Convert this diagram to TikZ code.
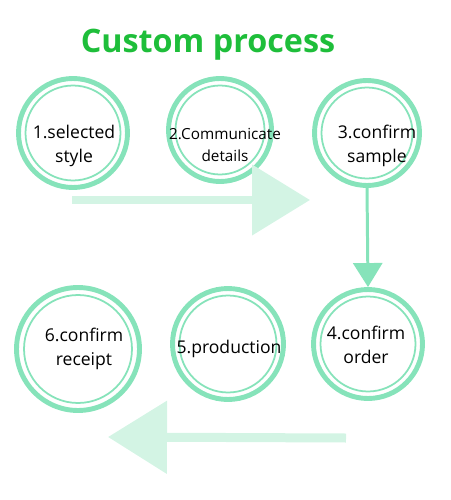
\documentclass[tikz,border=0pt]{standalone}
\usepackage{fontspec}
\setmainfont{Open Sans}
\usepackage{tikz}
\usetikzlibrary{arrows.meta,positioning}
\definecolor{ringgreen}{RGB}{134,227,186}
\definecolor{palegreen}{RGB}{211,244,228}
\definecolor{titlegreen}{RGB}{30,190,58}

\begin{document}
\begin{tikzpicture}[x=0.02cm, y=-0.02cm,
    ring/.style={circle, draw=ringgreen, line width=2.8pt, fill=white,
        inner sep=0pt},
    inring/.style={draw=ringgreen, line width=1pt},
    lbl/.style={align=center, font=\fontsize{10}{14}\selectfont, inner sep=0pt},
    bigarr/.style={palegreen, -{Triangle[length=1.16cm, width=1.38cm]}},
    downarr/.style={ringgreen, line width=1.7pt, -{Triangle[length=0.48cm, width=0.58cm]}}
]
    \useasboundingbox (0,0) rectangle (450,500);
    \node[font=\fontsize{18.4}{22}\selectfont\bfseries, text=titlegreen, anchor=base] (title) at (208,53) {Custom process};
    % upper row
    \node[ring, minimum size=2.18cm] (c1) at (73,133) {};
    \node[ring, minimum size=2.06cm] (c2) at (220,130) {};
    \node[ring, minimum size=2.10cm] (c3) at (367,133) {};
    % lower row
    \node[ring, minimum size=2.18cm] (c4) at (368,344) {};
    \node[ring, minimum size=2.22cm] (c5) at (228,344) {};
    \node[ring, minimum size=2.46cm] (c6) at (78,349) {};
    \draw[inring] (c1.center) circle[radius=0.95cm];
    \draw[inring] (c2.center) circle[radius=0.89cm];
    \draw[inring] (c3.center) circle[radius=0.91cm];
    \draw[inring] (c4.center) circle[radius=0.95cm];
    \draw[inring] (c5.center) circle[radius=0.97cm];
    \draw[inring] (c6.center) circle[radius=1.08cm];
    % labels
    \node[lbl] (t1) at (74,146) {1.selected\\style};
    \node[lbl, font=\fontsize{8.7}{13}\selectfont] (t2) at (225,145) {2.Communicate\\details};
    \node[lbl] (t3) at (377,146) {3.confirm\\sample};
    \node[lbl] (t4) at (366,345) {4.confirm\\order};
    \node[lbl] (t5) at (229,349) {5.production};
    \node[lbl] (t6) at (84,349) {6.confirm\\receipt};
    % arrows
    \coordinate (s1) at (72,200);
    \coordinate (e1) at (310,200);
    \coordinate (s2) at (346,438);
    \coordinate (e2) at (108,437);
    \draw[bigarr, line width=0.16cm] (s1) -- (e1);
    \draw[downarr] (c3.south) -- (c4.north);
    \draw[bigarr, line width=0.18cm, -{Triangle[length=1.18cm, width=1.42cm]}] (s2) -- (e2);
\end{tikzpicture}
\end{document}
